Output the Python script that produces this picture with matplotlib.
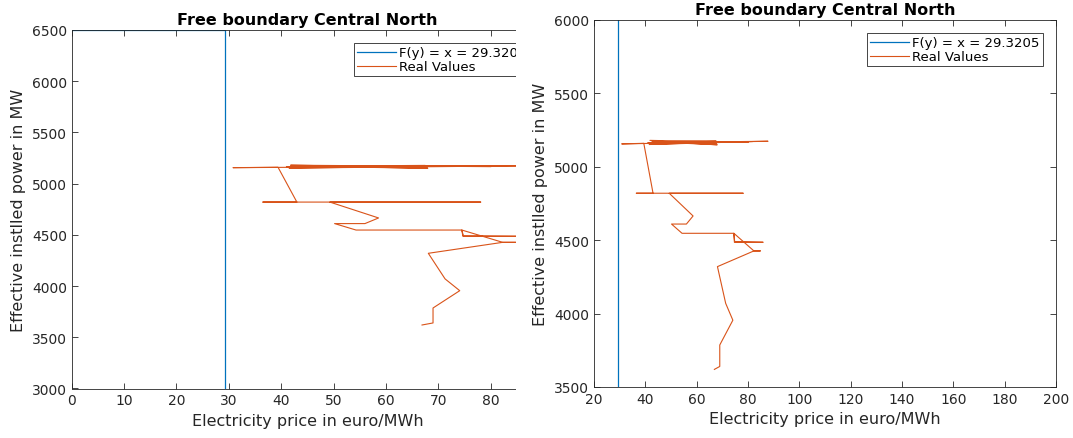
import numpy as np
import matplotlib
matplotlib.use("Agg")
import matplotlib.pyplot as plt
from matplotlib.patches import Rectangle

# Vertical boundary F(y) = x
boundary_x = [0, 29.3205, 29.3205]
boundary_y = [6500, 6500, 3000]
boundary_label = "F(y) = x = 29.3205"

# Real values (price, power), bottom to top
price = [66.9, 69.0, 69.0, 74.1, 71.3, 68.1, 82.3, 84.8, 82.3, 74.5,
         74.7, 85.9, 74.8, 74.5, 54.3, 50.2, 56.0, 58.6, 49.3, 78.1,
         36.5, 43.0, 39.4, 30.8, 87.8, 41.0, 81.8, 41.5, 68.0, 42.0,
         67.5, 43.0, 68.0, 42.5, 67.8, 41.8, 80.0]
power = [3620, 3640, 3786, 3955, 4070, 4320, 4427, 4427, 4427, 4547,
         4486, 4486, 4490, 4547, 4547, 4610, 4610, 4665, 4820, 4820,
         4820, 4820, 5160, 5156, 5174, 5165, 5172, 5152, 5168, 5158,
         5178, 5170, 5150, 5175, 5160, 5180, 5166]

BLUE = "#0072BD"
ORANGE = "#D95319"
INK = "#262626"

W, H = 1073, 439
fig = plt.figure(figsize=(W / 100, H / 100), dpi=100)


def px_axes(left, right, top, bottom):
    return fig.add_axes([left / W, (H - bottom) / H, (right - left) / W, (bottom - top) / H])


def style(ax):
    for s in ax.spines.values():
        s.set_color(INK)
        s.set_linewidth(0.6)
    ax.tick_params(direction="in", length=4, width=0.6, colors=INK,
                   labelsize=10, top=True, right=True, labelcolor=INK)


def draw(ax):
    ax.plot(boundary_x, boundary_y, color=BLUE, lw=0.9, label=boundary_label)
    ax.plot(price, power, color=ORANGE, lw=0.8, label="Real Values")
    ax.set_title("Free boundary Central North", fontsize=11.5, fontweight="bold",
                 color="black", pad=4)
    ax.set_xlabel("Electricity price in euro/MWh", fontsize=11.5, color=INK)
    ax.set_ylabel("Effective instlled power in MW", fontsize=11.5, color=INK)
    leg = ax.legend(loc="upper right", fontsize=9.5, fancybox=False, framealpha=1,
                    edgecolor=INK, borderaxespad=1.0, handlelength=3.0,
                    handletextpad=0.2, borderpad=0.25, labelspacing=0.05)
    leg.get_frame().set_linewidth(0.6)
    style(ax)


# left panel (cut off on the right side)
ax1 = px_axes(71.7, 543, 31, 389.5)
draw(ax1)
ax1.set_xlim(0, 90)
ax1.set_ylim(3000, 6500)
ax1.set_xticks(np.arange(0, 81, 10))
ax1.set_yticks(np.arange(3000, 6501, 500))

# white strip hiding the cut part of the left panel
fig.patches.append(Rectangle((516 / W, 0), (575 - 516) / W, 1, transform=fig.transFigure,
                             facecolor="white", edgecolor="none", zorder=1.5))

# right panel
ax2 = px_axes(594, 1056, 21, 388)
ax2.set_zorder(2)
draw(ax2)
ax2.set_xlim(20, 200)
ax2.set_ylim(3500, 6000)
ax2.set_xticks(np.arange(20, 201, 20))
ax2.set_yticks(np.arange(3500, 6001, 500))

fig.savefig("out.png", dpi=100, facecolor="white")
